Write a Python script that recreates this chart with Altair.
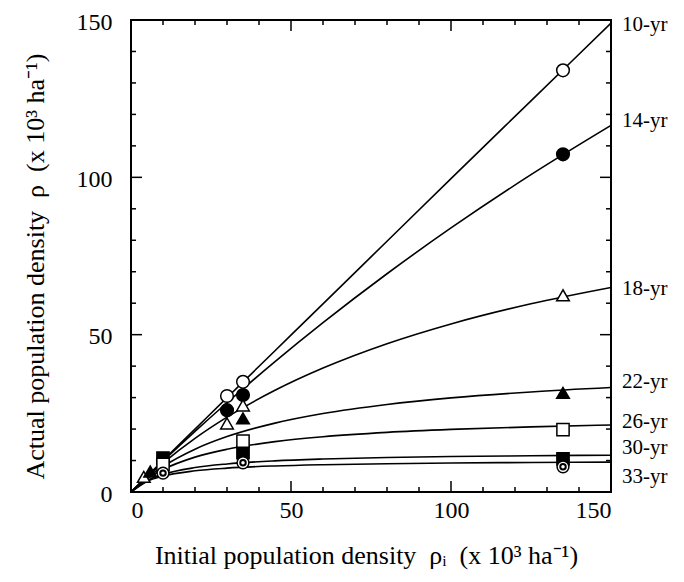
import altair as alt
import pandas as pd

# ---- fitted curves ----
curve_x = [0, 5, 10, 20, 30, 45, 60, 80, 100, 125, 150]
c10 = [0, 5.0, 10.0, 20.0, 30.0, 44.9, 59.8, 79.7, 99.6, 124.3, 149.0]
c14 = [0, 4.95, 9.81, 19.26, 28.37, 41.43, 53.81, 69.36, 83.91, 100.84, 116.5]
c18 = [0, 4.79, 9.20, 17.03, 23.78, 32.32, 39.39, 47.13, 53.42, 59.82, 65.0]
c22 = [0, 4.48, 8.10, 13.61, 17.61, 21.89, 24.93, 27.82, 29.90, 31.80, 33.2]
c26 = [0, 4.16, 7.13, 11.08, 13.58, 16.00, 17.56, 18.95, 19.89, 20.71, 21.3]
c30 = [0, 3.59, 5.59, 7.76, 8.92, 9.90, 10.47, 10.95, 11.26, 11.52, 11.7]
c33 = [0, 3.35, 5.04, 6.73, 7.58, 8.28, 8.68, 9.00, 9.21, 9.38, 9.5]

# ---- observed points ----
p10_x = [10, 30, 35, 135]; p10_y = [10.0, 30.5, 35.0, 134.0]
p14_x = [10, 30, 35, 135]; p14_y = [10.0, 26.0, 30.8, 107.3]
p18_x = [4, 30, 35, 135];  p18_y = [4.8, 21.8, 27.5, 62.5]
p22_x = [6, 35, 135];      p22_y = [6.5, 23.4, 31.5]
p26_x = [10, 35, 135];     p26_y = [8.8, 16.2, 19.8]
p30_x = [10, 35, 135];     p30_y = [10.8, 12.5, 10.5]
p33_x = [10, 35, 135];     p33_y = [6.0, 9.3, 8.0]

# ---- right-hand labels ----
labels = ["10-yr", "14-yr", "18-yr", "22-yr", "26-yr", "30-yr", "33-yr"]
label_y = [148.5, 117.8, 64.4, 35.0, 22.4, 13.9, 4.7]

# ---- ticks ----
major = [0, 50, 100, 150]
minor = [10, 20, 30, 40, 60, 70, 80, 90, 110, 120, 130, 140]

W, H = 480, 472
FONT = "Liberation Serif"

curves = {"10-yr": c10, "14-yr": c14, "18-yr": c18, "22-yr": c22,
          "26-yr": c26, "30-yr": c30, "33-yr": c33}
curve_df = pd.DataFrame([
    {"series": k, "x": x, "y": y}
    for k, ys in curves.items() for x, y in zip(curve_x, ys)
])

xs = alt.Scale(domain=[0, 150], nice=False, zero=False)
ys_ = alt.Scale(domain=[0, 150], nice=False, zero=False)

NB = "\u00a0"
XT = f"Initial population density{NB}{NB}\u03c1\u1d62{NB}{NB}(x 10\u00b3 ha\u207b\u00b9)"
YT = f"Actual population density{NB}{NB}\u03c1{NB}{NB}(x 10\u00b3 ha\u207b\u00b9)"

xaxis = alt.Axis(values=major, ticks=False, grid=False, domain=False,
                 labelFont=FONT, labelFontSize=24, labelColor="black",
                 labelPadding=6, titleFont=FONT, titleFontSize=26,
                 titleFontWeight="normal", titleColor="black",
                 titleX=235, titleY=63, titleAlign="center", titleBaseline="middle",
                 format="d")
yaxis = alt.Axis(values=major, ticks=False, grid=False, domain=False,
                 labelFont=FONT, labelFontSize=24, labelColor="black",
                 labelPadding=19, labelOffset=2, titleFont=FONT, titleFontSize=26,
                 titleFontWeight="normal", titleColor="black",
                 titleX=-96, titleY=H / 2 + 10, titleAlign="center", titleBaseline="middle",
                 titleAngle=270, format="d")

def X():
    return alt.X("x:Q", scale=xs, axis=xaxis, title=XT)

def Y():
    return alt.Y("y:Q", scale=ys_, axis=yaxis, title=YT)

line_layer = alt.Chart(curve_df).mark_line(color="black", strokeWidth=1.6, clip=True,
                                           interpolate="monotone").encode(
    x=X(), y=Y(), detail="series:N")

def pts(xv, yv, shape, fill, size=140, sw=1.5):
    df = pd.DataFrame({"x": xv, "y": yv})
    return alt.Chart(df).mark_point(shape=shape, fill=fill, stroke="black",
                                    strokeWidth=sw, size=size, opacity=1,
                                    filled=True).encode(x=X(), y=Y())

layers = [line_layer,
          pts(p10_x, p10_y, "circle", "white", 160),
          pts(p14_x, p14_y, "circle", "black", 160),
          pts(p18_x, p18_y, "triangle-up", "white", 160),
          pts(p22_x, p22_y, "triangle-up", "black", 160),
          pts(p30_x, p30_y, "square", "black", 150),
          pts(p26_x, p26_y, "square", "white", 150),
          pts(p33_x, p33_y, "circle", "white", 140),
          pts(p33_x, p33_y, "circle", "white", 30, 2.0)]

# tick marks (inward, all four sides)
def xticks(vals, L, top):
    df = pd.DataFrame({"x": vals})
    if top:
        yv, y2v = 0, L
    else:
        yv, y2v = H, H - L
    return alt.Chart(df).mark_rule(color="black", strokeWidth=1.5).encode(
        x=X(), y=alt.value(yv), y2=alt.value(y2v))

def yticks(vals, L, right):
    df = pd.DataFrame({"y": vals})
    if right:
        xv, x2v = W, W - L
    else:
        xv, x2v = 0, L
    return alt.Chart(df).mark_rule(color="black", strokeWidth=1.5).encode(
        y=Y(), x=alt.value(xv), x2=alt.value(x2v))

for top in (False, True):
    layers.append(xticks(major, 11, top))
    layers.append(xticks(minor, 5, top))
for right in (False, True):
    layers.append(yticks(major, 11, right))
    layers.append(yticks(minor, 5, right))

lab_df = pd.DataFrame({"label": labels, "y": label_y})
layers.append(alt.Chart(lab_df).mark_text(align="left", baseline="middle",
                                          font=FONT, fontSize=21, color="black",
                                          clip=False).encode(
    x=alt.value(W + 11), y=Y(), text="label:N"))

chart = alt.layer(*layers).properties(
    width=W, height=H,
    autosize=alt.AutoSizeParams(type="none"),
    padding={"left": 123, "top": 12, "right": 65, "bottom": 82},
    background="white",
).configure_view(stroke="black", strokeWidth=2)

chart.save("out.html", embed_options={"renderer": "svg", "actions": False})
